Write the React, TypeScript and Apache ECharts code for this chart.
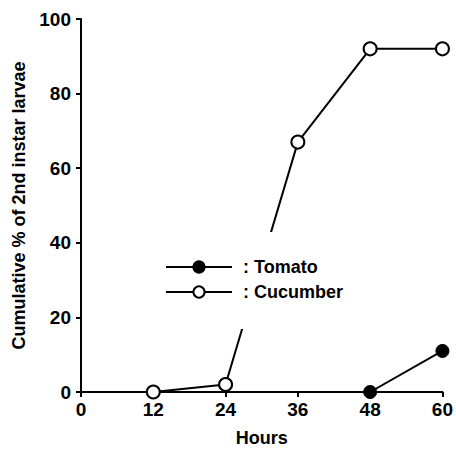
import React, { useEffect, useRef } from "react";
import * as echarts from "echarts";

const hours = [12, 24, 36, 48, 60];
const cucumber = [0, 2, 67, 92, 92];
const tomatoHours = [48, 60];
const tomato = [0, 11];
const xTicks = [0, 12, 24, 36, 48, 60];

const FONT = "'Liberation Sans', Arial, sans-serif";

export default function App() {
  const ref = useRef<HTMLDivElement>(null);
  useEffect(() => {
    const chart = echarts.init(ref.current!, null, { renderer: "svg" });
    chart.setOption({
      animation: false,
      backgroundColor: "#fff",
      grid: { left: 81, right: 13, top: 19, bottom: 59 },
      xAxis: {
        type: "value",
        min: xTicks[0],
        max: xTicks[xTicks.length - 1],
        interval: 12,
        name: "Hours",
        nameLocation: "middle",
        nameGap: 37,
        nameTextStyle: { fontFamily: FONT, fontWeight: "bold", fontSize: 18, color: "#000" },
        axisLine: { lineStyle: { color: "#000", width: 2 } },
        axisTick: { length: 5, lineStyle: { color: "#000", width: 2 } },
        axisLabel: { fontFamily: FONT, fontWeight: "bold", fontSize: 19, color: "#000", margin: 8 },
        splitLine: { show: false },
      },
      yAxis: {
        type: "value",
        min: 0,
        max: 100,
        interval: 20,
        name: "Cumulative % of 2nd instar larvae",
        nameLocation: "middle",
        nameRotate: 90,
        nameGap: 53,
        nameTextStyle: { fontFamily: FONT, fontWeight: "bold", fontSize: 18, color: "#000" },
        axisLine: { show: true, lineStyle: { color: "#000", width: 2 } },
        axisTick: { show: true, length: 5, lineStyle: { color: "#000", width: 2 } },
        axisLabel: { fontFamily: FONT, fontWeight: "bold", fontSize: 19, color: "#000", margin: 10 },
        splitLine: { show: false },
      },
      legend: {
        data: ["Tomato", "Cucumber"],
        orient: "vertical",
        left: 161,
        top: 232,
        padding: [26, 8, 28, 4],
        backgroundColor: "#fff",
        itemWidth: 66,
        itemHeight: 14,
        itemGap: 7,
        formatter: ": {name}",
        textStyle: { fontFamily: FONT, fontWeight: "bold", fontSize: 18, color: "#000", padding: [0, 0, 0, 6] },
      },
      series: [
        {
          name: "Tomato",
          type: "line",
          data: tomatoHours.map((h, i) => [h, tomato[i]]),
          symbol: "circle",
          symbolSize: 13,
          lineStyle: { color: "#000", width: 2 },
          itemStyle: { color: "#000", borderColor: "#000", borderWidth: 1 },
        },
        {
          name: "Cucumber",
          type: "line",
          data: hours.map((h, i) => [h, cucumber[i]]),
          symbol: "circle",
          symbolSize: 13,
          lineStyle: { color: "#000", width: 2 },
          itemStyle: { color: "#fff", borderColor: "#000", borderWidth: 2 },
        },
      ],
    });
    return () => chart.dispose();
  }, []);
  return <div ref={ref} style={{ width: 456, height: 452, position: "absolute", left: 0, top: 0 }} />;
}
